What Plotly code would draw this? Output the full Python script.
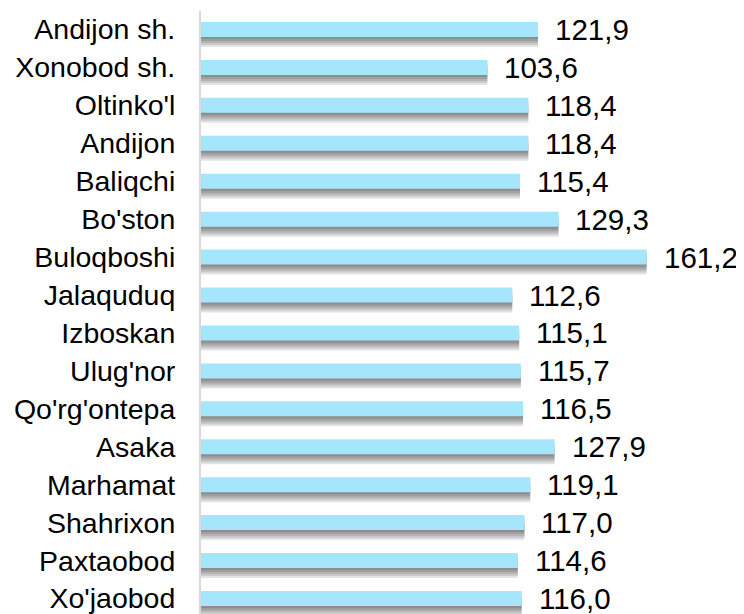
import plotly.graph_objects as go

categories = ["Andijon sh.", "Xonobod sh.", "Oltinko'l", "Andijon", "Baliqchi", "Bo'ston",
              "Buloqboshi", "Jalaquduq", "Izboskan", "Ulug'nor", "Qo'rg'ontepa", "Asaka",
              "Marhamat", "Shahrixon", "Paxtaobod", "Xo'jaobod"]
values = [121.9, 103.6, 118.4, 118.4, 115.4, 129.3, 161.2, 112.6, 115.1, 115.7, 116.5,
          127.9, 119.1, 117.0, 114.6, 116.0]

FONT = "Arial, Liberation Sans, sans-serif"
ROW_PX = 37.93
BAR_W = 15 / ROW_PX

fig = go.Figure()

# soft shadow layers under each bar
for px in [10, 8, 6, 4, 2]:
    fig.add_trace(go.Bar(
        x=values, y=categories, orientation="h",
        width=BAR_W, offset=-BAR_W / 2 + px / ROW_PX,
        marker=dict(color="rgba(0,0,0,0.11)", line=dict(width=0)),
        hoverinfo="skip", showlegend=False,
    ))

fig.add_trace(go.Bar(
    x=values, y=categories, orientation="h",
    width=BAR_W, offset=-BAR_W / 2,
    marker=dict(color="#A6E6FC", line=dict(width=0)),
    showlegend=False,
))

for c, v in zip(categories, values):
    fig.add_annotation(
        x=v, y=c, text=f"{v:.1f}".replace(".", ","), showarrow=False,
        xanchor="left", yanchor="middle", xshift=15,
        font=dict(family=FONT, size=29.5, color="#000000"),
    )

# page body has an 8px margin; compensate in the figure margins
fig.update_layout(
    width=744, height=614,
    margin=dict(l=193, r=0, t=3, b=0),
    paper_bgcolor="white", plot_bgcolor="white",
    barmode="overlay",
    font=dict(family=FONT, size=28.5, color="#000000"),
    xaxis=dict(range=[0, 199.3], showgrid=False, zeroline=False, showticklabels=False,
               showline=False, fixedrange=True),
    yaxis=dict(type="category", categoryorder="array", categoryarray=categories,
               range=[15.62, -0.488], showgrid=False, zeroline=False,
               showline=True, linecolor="#D9D9D9", linewidth=2,
               ticks="", ticklabelstandoff=18,
               tickfont=dict(family=FONT, size=28.5, color="#000000")),
)

fig.write_html("out.html")
